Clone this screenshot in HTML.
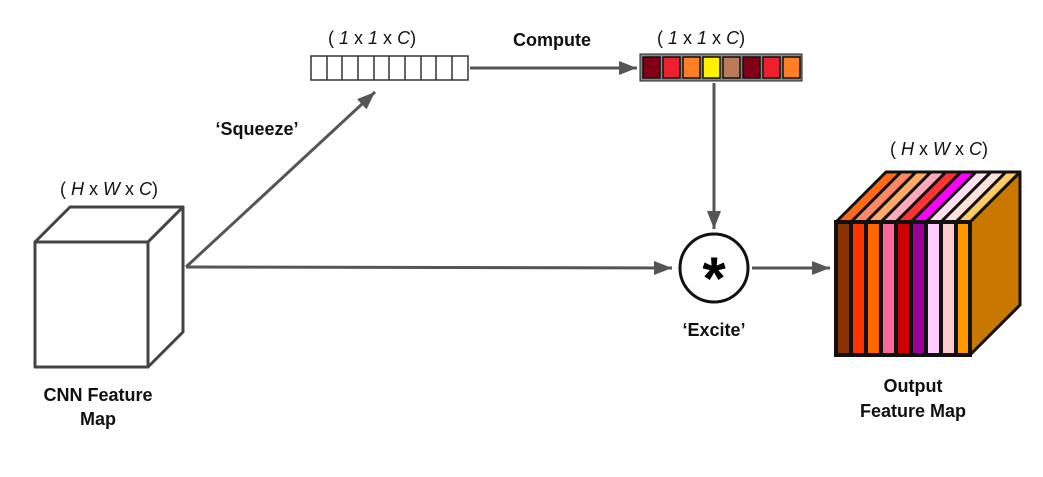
<!DOCTYPE html><html><head><style>body{margin:0;background:#fff}</style></head><body>
<svg width="1043" height="472" xmlns="http://www.w3.org/2000/svg" font-family="Liberation Sans, Arial, sans-serif">
<defs>
<marker id="b" markerWidth="20" markerHeight="14" refX="18" refY="7" orient="auto" markerUnits="userSpaceOnUse"><path d="M0,0 L18,7 L0,14z" fill="#555"/></marker></defs>
<g stroke="#555" stroke-width="3" fill="none">
<line x1="186" y1="267" x2="375" y2="92" marker-end="url(#b)"/>
<line x1="186" y1="267" x2="672" y2="268" marker-end="url(#b)"/>
<line x1="470" y1="68" x2="637" y2="68" marker-end="url(#b)"/>
<line x1="714" y1="83" x2="714" y2="229" marker-end="url(#b)"/>
<line x1="752" y1="268" x2="830" y2="268" marker-end="url(#b)"/>
</g>
<g stroke="#444" stroke-width="3" fill="#fff" stroke-linejoin="round">
<polygon points="35,242 70,207 183,207 148,242"/>
<polygon points="148,242 183,207 183,332 148,367"/>
<rect x="35" y="242" width="113" height="125"/>
</g>
<g stroke="#333" stroke-width="1.5" fill="#fff">
<rect x="311" y="56" width="157" height="24"/>
<path d="M327,56v24M342,56v24M358,56v24M374,56v24M389,56v24M405,56v24M421,56v24M436,56v24M452,56v24"/>
</g>
<rect x="640" y="54" width="162" height="27" fill="#888" stroke="#222" stroke-width="1"/>
<g stroke="#111" stroke-width="1.5">
<rect x="643" y="57" width="17" height="21" fill="#800018"/>
<rect x="663" y="57" width="17" height="21" fill="#ee2030"/>
<rect x="683" y="57" width="17" height="21" fill="#ff7f27"/>
<rect x="703" y="57" width="17" height="21" fill="#fff200"/>
<rect x="723" y="57" width="17" height="21" fill="#b97a57"/>
<rect x="743" y="57" width="17" height="21" fill="#800018"/>
<rect x="763" y="57" width="17" height="21" fill="#ee2030"/>
<rect x="783" y="57" width="17" height="21" fill="#ff7f27"/>
</g>
<circle cx="714" cy="268" r="34" fill="#fff" stroke="#111" stroke-width="3"/>
<text x="714" y="299" font-size="60" font-weight="bold" text-anchor="middle">*</text>
<g stroke="#111" stroke-width="3" stroke-linejoin="round">
<polygon points="970,222 1020,172 1020,305 970,355" fill="#c87800"/>
<polygon points="836,222 886,172 1020,172 970,222" fill="#ff6a1a"/>
<polygon points="851,222 901,172 916,172 866,222" fill="#ff8866"/>
<polygon points="866,222 916,172 931,172 881,222" fill="#ffaa66"/>
<polygon points="881,222 931,172 946,172 896,222" fill="#ffaabb"/>
<polygon points="896,222 946,172 961,172 911,222" fill="#ff3333"/>
<polygon points="911,222 961,172 976,172 926,222" fill="#ff00ff"/>
<polygon points="926,222 976,172 991,172 941,222" fill="#ffe0f0"/>
<polygon points="941,222 991,172 1006,172 956,222" fill="#ffe0dd"/>
<polygon points="956,222 1006,172 1020,172 970,222" fill="#ffcc66"/>
</g>
<g stroke="#111" stroke-width="4">
<rect x="836" y="222" width="15" height="133" fill="#8b3200"/>
<rect x="851" y="222" width="15" height="133" fill="#ff3300"/>
<rect x="866" y="222" width="15" height="133" fill="#ff6600"/>
<rect x="881" y="222" width="15" height="133" fill="#ff6699"/>
<rect x="896" y="222" width="15" height="133" fill="#cc0000"/>
<rect x="911" y="222" width="15" height="133" fill="#990099"/>
<rect x="926" y="222" width="15" height="133" fill="#ffccff"/>
<rect x="941" y="222" width="15" height="133" fill="#ffcccc"/>
<rect x="956" y="222" width="14" height="133" fill="#ff9900"/>
</g>
<g font-size="18" fill="#111">
<text x="328" y="44">( <tspan font-style="italic">1</tspan> x <tspan font-style="italic">1</tspan> x <tspan font-style="italic">C</tspan>)</text>
<text x="657" y="44">( <tspan font-style="italic">1</tspan> x <tspan font-style="italic">1</tspan> x <tspan font-style="italic">C</tspan>)</text>
<text x="60" y="195">( <tspan font-style="italic">H</tspan> x <tspan font-style="italic">W</tspan> x <tspan font-style="italic">C</tspan>)</text>
<text x="890" y="155">( <tspan font-style="italic">H</tspan> x <tspan font-style="italic">W</tspan> x <tspan font-style="italic">C</tspan>)</text>
</g>
<g font-size="18" font-weight="bold" fill="#111" text-anchor="middle">
<text x="552" y="46">Compute</text>
<text x="257" y="135">‘Squeeze’</text>
<text x="714" y="336">‘Excite’</text>
<text x="98" y="401">CNN Feature</text>
<text x="98" y="425">Map</text>
<text x="913" y="392">Output</text>
<text x="913" y="417">Feature Map</text>
</g>
</svg></body></html>
